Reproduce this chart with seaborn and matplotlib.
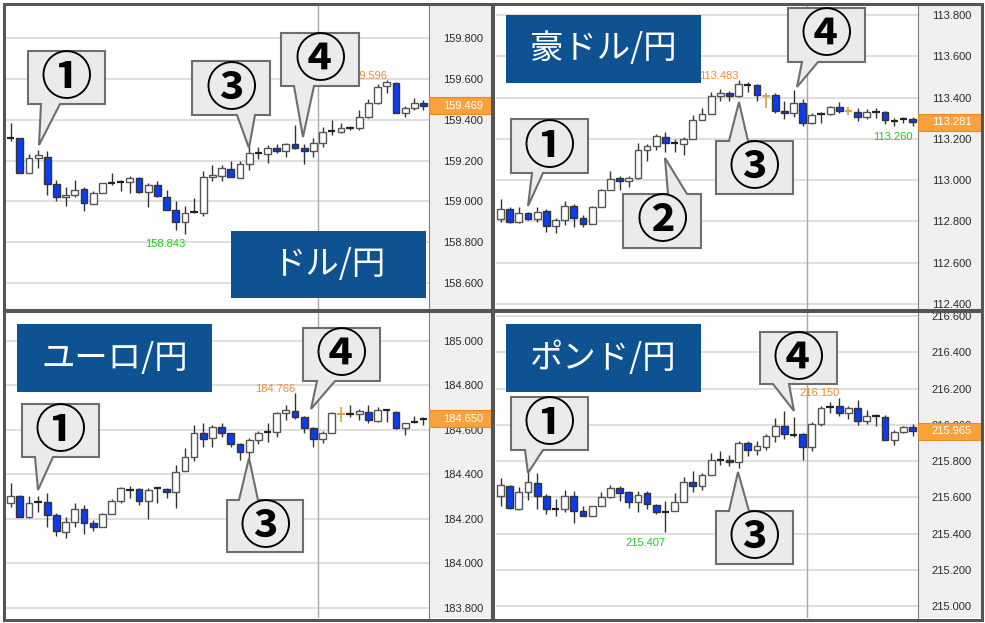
import matplotlib
matplotlib.use("Agg")
import matplotlib.pyplot as plt
import matplotlib.transforms as mtransforms
from matplotlib.patches import Polygon, Rectangle
from matplotlib.ticker import MultipleLocator, FormatStrFormatter
import numpy as np
import seaborn as sns

# ----------------------------------------------------------------------
# OHLC data (46 candles each)
# ----------------------------------------------------------------------
usd_open = [159.308, 159.310, 159.142, 159.212, 159.220, 159.086, 159.021, 159.032, 159.060, 158.988,
            159.041, 159.090, 159.094, 159.095, 159.114, 159.046, 159.081, 159.024, 158.956, 158.897,
            158.946, 158.943, 159.119, 159.127, 159.160, 159.114, 159.184, 159.234, 159.233, 159.261,
            159.245, 159.281, 159.264, 159.245, 159.286, 159.341, 159.341, 159.359, 159.359, 159.416,
            159.485, 159.566, 159.583, 159.433, 159.457, 159.485]
usd_high = [159.387, 159.312, 159.233, 159.250, 159.245, 159.103, 159.073, 159.106, 159.073, 159.049,
            159.093, 159.142, 159.106, 159.126, 159.122, 159.093, 159.098, 159.057, 159.000, 158.979,
            159.016, 159.147, 159.179, 159.179, 159.199, 159.196, 159.269, 159.269, 159.277, 159.282,
            159.289, 159.375, 159.281, 159.310, 159.367, 159.400, 159.387, 159.370, 159.449, 159.501,
            159.576, 159.596, 159.588, 159.468, 159.506, 159.498]
usd_low = [159.294, 159.138, 159.138, 159.163, 159.032, 159.000, 158.979, 159.021, 158.951, 158.988,
           159.041, 159.081, 159.049, 159.044, 159.041, 158.975, 159.024, 158.956, 158.861, 158.843,
           158.943, 158.930, 159.098, 159.098, 159.119, 159.114, 159.155, 159.207, 159.188, 159.240,
           159.217, 159.259, 159.184, 159.217, 159.269, 159.326, 159.338, 159.351, 159.351, 159.408,
           159.478, 159.534, 159.433, 159.413, 159.449, 159.449]
usd_close = [159.312, 159.142, 159.212, 159.228, 159.086, 159.021, 159.032, 159.057, 158.992, 159.041,
             159.090, 159.092, 159.097, 159.114, 159.046, 159.081, 159.028, 158.959, 158.897, 158.943,
             158.949, 159.119, 159.130, 159.163, 159.119, 159.184, 159.237, 159.236, 159.263, 159.245,
             159.281, 159.264, 159.245, 159.286, 159.341, 159.343, 159.359, 159.362, 159.416, 159.485,
             159.563, 159.588, 159.433, 159.457, 159.482, 159.469]

aud_open = [112.811, 112.860, 112.795, 112.840, 112.811, 112.852, 112.776, 112.805, 112.873, 112.815,
            112.789, 112.869, 112.950, 113.010, 112.997, 113.010, 113.145, 113.166, 113.211, 113.179,
            113.176, 113.198, 113.289, 113.321, 113.408, 113.424, 113.405, 113.461, 113.461, 113.408,
            113.413, 113.335, 113.324, 113.373, 113.276, 113.319, 113.321, 113.353, 113.335, 113.332,
            113.308, 113.329, 113.332, 113.289, 113.295, 113.295]
aud_high = [112.908, 112.869, 112.869, 112.848, 112.869, 112.860, 112.816, 112.897, 112.885, 112.832,
            112.873, 112.956, 113.042, 113.018, 113.018, 113.179, 113.176, 113.222, 113.231, 113.198,
            113.211, 113.316, 113.348, 113.429, 113.440, 113.434, 113.483, 113.473, 113.466, 113.424,
            113.421, 113.381, 113.437, 113.392, 113.324, 113.332, 113.360, 113.376, 113.353, 113.348,
            113.343, 113.348, 113.337, 113.300, 113.305, 113.305]
aud_low = [112.795, 112.792, 112.792, 112.805, 112.795, 112.747, 112.743, 112.784, 112.773, 112.773,
           112.789, 112.869, 112.950, 112.950, 112.969, 113.005, 113.095, 113.147, 113.134, 113.134,
           113.123, 113.198, 113.289, 113.321, 113.381, 113.381, 113.403, 113.429, 113.381, 113.348,
           113.327, 113.295, 113.305, 113.262, 113.274, 113.276, 113.316, 113.324, 113.316, 113.284,
           113.295, 113.300, 113.273, 113.263, 113.279, 113.260]
aud_close = [112.860, 112.795, 112.840, 112.811, 112.848, 112.779, 112.805, 112.873, 112.816, 112.789,
             112.869, 112.950, 113.005, 112.997, 113.010, 113.147, 113.166, 113.214, 113.179, 113.180,
             113.198, 113.289, 113.321, 113.408, 113.424, 113.408, 113.466, 113.463, 113.413, 113.408,
             113.335, 113.324, 113.373, 113.276, 113.316, 113.321, 113.353, 113.335, 113.335, 113.305,
             113.332, 113.331, 113.289, 113.287, 113.294, 113.281]

eur_open = [184.270, 184.303, 184.210, 184.273, 184.274, 184.217, 184.142, 184.187, 184.243, 184.183,
            184.162, 184.222, 184.282, 184.337, 184.333, 184.282, 184.330, 184.333, 184.322, 184.417,
            184.480, 184.585, 184.562, 184.612, 184.585, 184.537, 184.502, 184.555, 184.588, 184.589,
            184.675, 184.687, 184.657, 184.607, 184.558, 184.588, 184.672, 184.672, 184.672, 184.682,
            184.642, 184.690, 184.682, 184.607, 184.630, 184.645]
eur_high = [184.360, 184.307, 184.303, 184.303, 184.318, 184.228, 184.207, 184.270, 184.262, 184.195,
            184.228, 184.288, 184.345, 184.348, 184.337, 184.337, 184.342, 184.337, 184.442, 184.517,
            184.622, 184.630, 184.622, 184.630, 184.588, 184.543, 184.562, 184.597, 184.630, 184.682,
            184.712, 184.766, 184.663, 184.612, 184.597, 184.682, 184.705, 184.712, 184.693, 184.712,
            184.705, 184.693, 184.687, 184.633, 184.663, 184.657]
eur_low = [184.255, 184.210, 184.202, 184.232, 184.165, 184.123, 184.112, 184.165, 184.132, 184.147,
           184.162, 184.222, 184.273, 184.292, 184.262, 184.198, 184.273, 184.292, 184.247, 184.417,
           184.462, 184.522, 184.522, 184.567, 184.522, 184.465, 184.472, 184.537, 184.547, 184.570,
           184.645, 184.648, 184.585, 184.525, 184.540, 184.588, 184.637, 184.660, 184.645, 184.633,
           184.637, 184.637, 184.603, 184.577, 184.630, 184.622]
eur_close = [184.303, 184.210, 184.273, 184.274, 184.217, 184.147, 184.187, 184.243, 184.183, 184.162,
             184.222, 184.282, 184.337, 184.330, 184.282, 184.330, 184.337, 184.322, 184.412, 184.480,
             184.585, 184.558, 184.612, 184.585, 184.537, 184.502, 184.555, 184.588, 184.589, 184.675,
             184.690, 184.657, 184.607, 184.558, 184.588, 184.675, 184.672, 184.673, 184.687, 184.645,
             184.690, 184.688, 184.607, 184.630, 184.637, 184.650]

gbp_open = [215.606, 215.661, 215.536, 215.628, 215.679, 215.606, 215.538, 215.538, 215.606, 215.523,
            215.495, 215.554, 215.600, 215.652, 215.628, 215.574, 215.624, 215.560, 215.523, 215.523,
            215.573, 215.683, 215.664, 215.725, 215.804, 215.808, 215.793, 215.900, 215.863, 215.878,
            215.940, 215.995, 215.951, 215.951, 215.878, 216.007, 216.102, 216.102, 216.065, 216.093,
            216.019, 216.051, 216.043, 215.918, 215.959, 215.988]
gbp_high = [215.707, 215.670, 215.657, 215.738, 215.734, 215.620, 215.591, 215.639, 215.633, 215.550,
            215.554, 215.628, 215.670, 215.664, 215.633, 215.633, 215.633, 215.565, 215.578, 215.624,
            215.712, 215.744, 215.734, 215.845, 215.854, 215.836, 215.909, 215.909, 215.909, 215.951,
            216.038, 216.078, 216.043, 215.955, 216.014, 216.106, 216.128, 216.150, 216.106, 216.135,
            216.084, 216.062, 216.056, 215.970, 215.995, 216.007]
gbp_low = [215.550, 215.536, 215.532, 215.584, 215.536, 215.510, 215.499, 215.517, 215.458, 215.495,
           215.495, 215.550, 215.596, 215.578, 215.541, 215.520, 215.536, 215.510, 215.407, 215.523,
           215.573, 215.628, 215.642, 215.725, 215.781, 215.775, 215.762, 215.826, 215.835, 215.863,
           215.904, 215.922, 215.933, 215.808, 215.854, 215.995, 216.065, 216.051, 216.032, 216.001,
           216.007, 215.992, 215.915, 215.891, 215.955, 215.940]
gbp_close = [215.670, 215.541, 215.628, 215.683, 215.606, 215.538, 215.536, 215.606, 215.523, 215.499,
             215.554, 215.600, 215.652, 215.624, 215.574, 215.615, 215.565, 215.517, 215.521, 215.573,
             215.683, 215.664, 215.725, 215.804, 215.806, 215.793, 215.900, 215.863, 215.885, 215.940,
             215.995, 215.951, 215.946, 215.878, 216.007, 216.093, 216.100, 216.065, 216.093, 216.019,
             216.051, 216.049, 215.918, 215.959, 215.988, 215.965]

pair_titles = ["ドル/円", "豪ドル/円", "ユーロ/円", "ポンド/円"]
high_mark_idx = [41, 26, 31, 37]      # candle carrying the orange high label
low_mark_idx = [19, 45, None, 18]     # candle carrying the green low label
day_break = 33.45                     # vertical session separator (candle index)

W, H = 985, 623
BLUE_BOX = "#0e5292"
ORANGE = "#f7a23c"
NUM_FONT = ["Noto Sans CJK JP", "DejaVu Sans"]
TICK_FONT = ["Liberation Sans", "DejaVu Sans"]
TICK_SIZE = 8.0

sns.set_style("white")
plt.rcParams["font.family"] = TICK_FONT


def px_axes(fig, x0, y0, x1, y1, **kw):
    return fig.add_axes([x0 / W, 1 - y1 / H, (x1 - x0) / W, (y1 - y0) / H], **kw)


def draw_candles(ax, o, h, l, c, px_per_unit):
    o, h, l, c = map(np.asarray, (o, h, l, c))
    x = np.arange(len(o))
    flat = o == c
    thin = (np.abs(c - o) * px_per_unit < 1.6) & ~flat
    up = (c > o) & ~thin
    down = (c < o) & ~thin
    ax.vlines(x[~flat], l[~flat], h[~flat], color="#333333", lw=1, zorder=2)
    ax.vlines(x[flat], l[flat], h[flat], color="#d4a443", lw=1.2, zorder=2)
    ax.bar(x[up], (c - o)[up], bottom=o[up], width=0.74, color="white",
           edgecolor="#555555", linewidth=1, zorder=3)
    ax.bar(x[down], (c - o)[down], bottom=o[down], width=0.74, color="#0a3cf2",
           edgecolor="#333333", linewidth=1, zorder=3)
    ax.hlines(c[thin], x[thin] - 0.4, x[thin] + 0.4, color="#222222", lw=1.6, zorder=3)
    ax.hlines(c[flat], x[flat] - 0.4, x[flat] + 0.4, color="#d4a443", lw=1.4, zorder=3)


def make_panel(fig, rect, label_w, ylim, ohlc, hi_idx, lo_idx):
    x0, y0, x1, y1 = rect
    bg = px_axes(fig, x1, y0, x1 + label_w, y1, zorder=0)
    bg.set_facecolor("#f0f0f0")
    bg.set_xticks([])
    bg.set_yticks([])
    for sp in bg.spines.values():
        sp.set_visible(False)

    ax = px_axes(fig, x0, y0, x1, y1, zorder=1)
    ax.set_facecolor("white")
    o, h, l, c = ohlc
    ax.set_xlim(-0.5, 45.6)
    ax.set_ylim(*ylim)
    px_per_unit = (y1 - y0) / (ylim[1] - ylim[0])

    ax.yaxis.tick_right()
    ax.yaxis.set_major_locator(MultipleLocator(0.2))
    ax.yaxis.set_major_formatter(FormatStrFormatter("%.3f"))
    ax.tick_params(axis="y", length=0, pad=10, labelsize=TICK_SIZE, labelcolor="#2a2a2a")
    ax.set_xticks([])
    ax.grid(axis="y", color="#dcdcdc", lw=1.3, zorder=0)
    ax.set_axisbelow(True)
    for side, sp in ax.spines.items():
        sp.set_visible(side == "right")
    ax.spines["right"].set_color("#808080")
    ax.axvline(day_break, color="#a8a8a8", lw=1, zorder=1)

    draw_candles(ax, o, h, l, c, px_per_unit)

    ax.annotate(f"{h[hi_idx]:.3f}", xy=(hi_idx, h[hi_idx]), xytext=(0, -0.5),
                textcoords="offset points", ha="right", va="bottom",
                color="#f58a2e", fontsize=TICK_SIZE, zorder=4)
    if lo_idx is not None:
        ax.annotate(f"{l[lo_idx]:.3f}", xy=(lo_idx, l[lo_idx]), xytext=(0, -4),
                    textcoords="offset points", ha="right", va="top",
                    color="#1fcf1f", fontsize=TICK_SIZE, zorder=4)

    # current price marker on the price scale
    last = c[-1]
    trans = mtransforms.blended_transform_factory(ax.transAxes, ax.transData)
    half = 8.5 / px_per_unit
    ax.add_patch(Rectangle((1.0, last - half), label_w / (x1 - x0), 2 * half,
                           transform=trans, clip_on=False, fc=ORANGE, ec="#e88a20",
                           lw=0.8, zorder=5))
    ax.annotate(f"{last:.3f}", xy=(1.0, last), xycoords=trans, xytext=(10, 0),
                textcoords="offset points", ha="left", va="center",
                color="white", fontsize=TICK_SIZE, annotation_clip=False, zorder=6)
    return ax


def callout(ov, box, base, tip, side, label):
    bx0, by0, bx1, by1 = box
    b0, b1 = base
    if side == "bottom":
        pts = [(bx0, by0), (bx1, by0), (bx1, by1), (b1, by1), tip, (b0, by1), (bx0, by1)]
    else:
        pts = [(bx0, by0), (b0, by0), tip, (b1, by0), (bx1, by0), (bx1, by1), (bx0, by1)]
    ov.add_patch(Polygon(pts, closed=True, fc="#ebebeb", ec="#6e6e6e", lw=1.5, joinstyle="miter"))
    ov.text((bx0 + bx1) / 2, (by0 + by1) / 2 + 1, label, ha="center", va="center",
            fontsize=37, fontweight="bold", family=NUM_FONT, color="black")


def title_box(ov, box, text):
    bx0, by0, bx1, by1 = box
    ov.add_patch(Rectangle((bx0, by0), bx1 - bx0, by1 - by0, fc=BLUE_BOX, ec="none"))
    ov.text((bx0 + bx1) / 2, (by0 + by1) / 2, text, ha="center", va="center",
            fontsize=24, family=NUM_FONT, color="white")


def main():
    fig = plt.figure(figsize=(W / 100, H / 100), dpi=100)
    fig.patch.set_facecolor("white")

    make_panel(fig, (6, 5, 429, 309), 62, (158.473, 159.963),
               (usd_open, usd_high, usd_low, usd_close), high_mark_idx[0], low_mark_idx[0])
    make_panel(fig, (496, 5, 918, 309), 63, (112.376, 113.848),
               (aud_open, aud_high, aud_low, aud_close), high_mark_idx[1], low_mark_idx[1])
    make_panel(fig, (6, 313, 429, 618), 62, (183.754, 185.126),
               (eur_open, eur_high, eur_low, eur_close), high_mark_idx[2], low_mark_idx[2])
    make_panel(fig, (496, 313, 918, 618), 63, (214.934, 216.617),
               (gbp_open, gbp_high, gbp_low, gbp_close), high_mark_idx[3], low_mark_idx[3])

    # overlay in pixel coordinates for frames, titles and callouts
    ov = fig.add_axes([0, 0, 1, 1], zorder=10)
    ov.set_xlim(0, W)
    ov.set_ylim(H, 0)
    ov.axis("off")
    ov.patch.set_alpha(0)

    title_box(ov, (231, 231, 426, 298), pair_titles[0])
    title_box(ov, (506, 15, 701, 83), pair_titles[1])
    title_box(ov, (17, 324, 212, 392), pair_titles[2])
    title_box(ov, (506, 324, 701, 392), pair_titles[3])

    callout(ov, (28, 51, 105, 104), (41, 60), (39, 145), "bottom", "①")
    callout(ov, (192, 61, 270, 115), (237, 255), (249, 148), "bottom", "③")
    callout(ov, (281, 33, 359, 86), (294, 314), (303, 137), "bottom", "④")

    callout(ov, (511, 119, 588, 173), (532, 543), (528, 206), "bottom", "①")
    callout(ov, (623, 194, 701, 248), (668, 687), (665, 158), "top", "②")
    callout(ov, (716, 141, 793, 194), (729, 748), (739, 102), "top", "③")
    callout(ov, (788, 8, 865, 62), (802, 818), (797, 87), "bottom", "④")

    callout(ov, (22, 404, 99, 457), (35, 53), (38, 490), "bottom", "①")
    callout(ov, (227, 500, 303, 552), (239, 258), (249, 458), "top", "③")
    callout(ov, (303, 328, 380, 381), (317, 335), (311, 409), "bottom", "④")

    callout(ov, (511, 397, 588, 450), (525, 543), (528, 473), "bottom", "①")
    callout(ov, (716, 511, 793, 564), (729, 749), (738, 472), "top", "③")
    callout(ov, (760, 332, 837, 384), (773, 789), (794, 411), "bottom", "④")

    # panel frames
    for fx0, fy0, fx1, fy1 in [(4, 4, 492, 310), (493, 4, 982, 310),
                               (4, 311, 492, 620), (493, 311, 982, 620)]:
        ov.add_patch(Rectangle((fx0, fy0), fx1 - fx0, fy1 - fy0, fc="none",
                               ec="#555555", lw=2.2))

    fig.savefig("out.png", dpi=100)


if __name__ == "__main__":
    main()
